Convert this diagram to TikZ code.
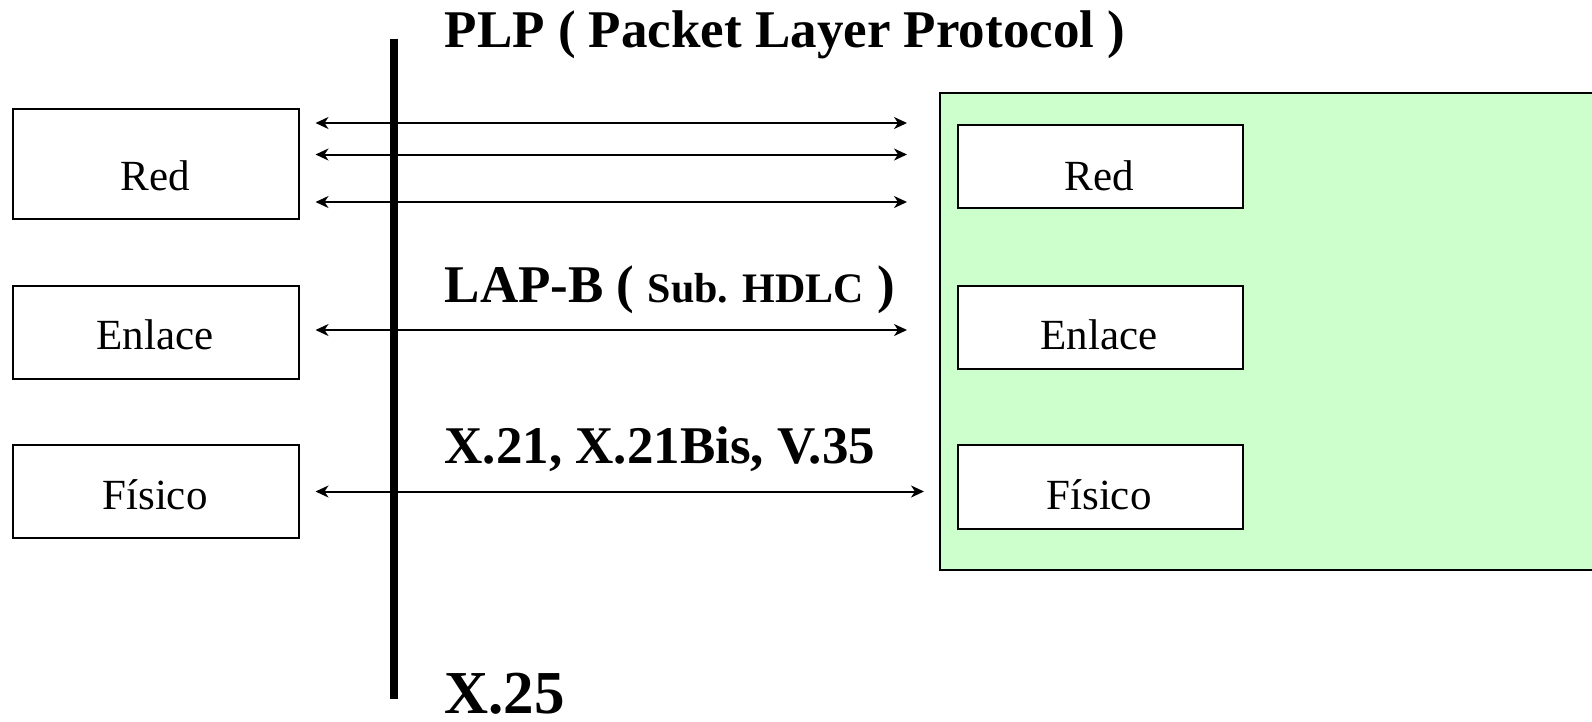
\documentclass[tikz,border=0pt]{standalone}
\usepackage{fontspec}
\setmainfont{Liberation Serif}
\usetikzlibrary{arrows.meta}
\begin{document}
\begin{tikzpicture}[x=1pt,y=-1pt,
  layerbox/.style={draw, line width=2pt, fill=white, inner sep=0pt, anchor=north west},
  layertext/.style={anchor=base, inner sep=0pt, font=\fontsize{43}{50}\selectfont},
  protolabel/.style={anchor=base west, inner sep=0pt, font=\bfseries\fontsize{53}{60}\selectfont},
  link/.style={line width=2pt, {Stealth[length=13pt,width=12pt,inset=4pt]}-{Stealth[length=13pt,width=12pt,inset=4pt]}},
  stackbox/.style={draw, line width=2pt, fill=stackgreen}
]
\definecolor{stackgreen}{HTML}{CCFFCC}
\useasboundingbox (0,0) rectangle (1592,721);

% remote stack (green panel)
\draw[stackbox] (940,92.5) rectangle (1600,569.5);

% local layers
\node[layerbox, minimum width=286pt, minimum height=110pt] (redL) at (12,107.5) {};
\node[layerbox, minimum width=286pt, minimum height=93pt] (enlL) at (12,284.5) {};
\node[layerbox, minimum width=286pt, minimum height=93pt] (fisL) at (12,444) {};
\node[layertext] (tredL) at (155,190) {Red};
\node[layertext] (tenlL) at (155,349) {Enlace};
\node[layertext] (tfisL) at (155,509.5) {Físico};

% remote layers
\node[layerbox, minimum width=285pt, minimum height=83pt] (redR) at (956.5,124) {};
\node[layerbox, minimum width=285pt, minimum height=83pt] (enlR) at (956.5,284.5) {};
\node[layerbox, minimum width=285pt, minimum height=84pt] (fisR) at (956.5,444) {};
\node[layertext] (tredR) at (1099,190) {Red};
\node[layertext] (tenlR) at (1099,349) {Enlace};
\node[layertext] (tfisR) at (1099,509.5) {Físico};

% interface bar
\coordinate (barT) at (394,38.5);
\coordinate (barB) at (394,698.5);
\draw[line width=8pt] (barT) -- (barB);

% arrow end points
\coordinate (a1L) at (315.5,123);  \coordinate (a1R) at (907,123);
\coordinate (a2L) at (315.5,154.5); \coordinate (a2R) at (907,154.5);
\coordinate (a3L) at (315.5,202);  \coordinate (a3R) at (907,202);
\coordinate (a4L) at (315.5,330);  \coordinate (a4R) at (907,330);
\coordinate (a5L) at (315.5,491.5); \coordinate (a5R) at (924,491.5);
\draw[link] (a1L) -- (a1R);
\draw[link] (a2L) -- (a2R);
\draw[link] (a3L) -- (a3R);
\draw[link] (a4L) -- (a4R);
\draw[link] (a5L) -- (a5R);

% protocol labels
\node[protolabel] (plp) at (444.5,47.5) {PLP ( Packet Layer Protocol )};
\node[protolabel] (lapb) at (444.5,302.5) {LAP-B ( {\fontsize{42}{50}\selectfont Sub. HDLC} )};
\node[protolabel] (phy) at (444.5,463) {X.21, X.21Bis, V.35};
\node[protolabel, font=\bfseries\fontsize{61}{70}\selectfont] (x25) at (444.5,713.5) {X.25};
\end{tikzpicture}
\end{document}
